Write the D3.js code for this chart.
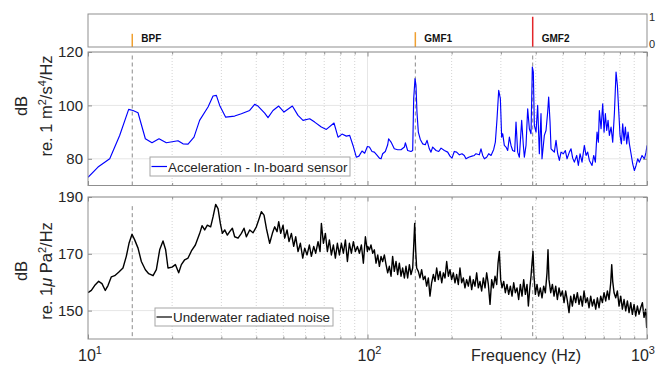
<!DOCTYPE html>
<html>
<head>
<meta charset="utf-8">
<script src="https://cdn.jsdelivr.net/npm/d3@7"></script>
<style>
  body { margin: 0; background: #fff; }
  svg { font-family: "Liberation Sans", Arial, sans-serif; }
</style>
</head>
<body>
<svg id="chart" width="660" height="367"></svg>
<script>
// --- data ---
const decadeTicks = [10, 100, 1000];
const decadeExp = ['1', '2', '3'];
const minorTicks = [20, 30, 40, 50, 60, 70, 80, 90, 200, 300, 400, 500, 600, 700, 800, 900];

const markerNames = ['BPF', 'GMF1', 'GMF2'];
const markerFreq = [14.4, 148.3, 390];
const markerLevel = [0.38, 0.44, 1];
const markerColor = ['#f0a030', '#f0a030', '#e3262a'];
const stripDomain = [-0.1, 1.1];
const stripTicks = [0, 1];

const accelDomain = [70, 120];
const accelTicks = [80, 100, 120];
const accelMarkerSpan = [70, 119];
const noiseDomain = [140, 190];
const noiseTicks = [150, 170, 190];
const noiseMarkerSpan = [141, 187];

// acceleration, 10-100 Hz
const accelLowFreq = [10, 10.86, 11.96, 12.98, 13.98, 14.49, 15.10, 16.04, 16.94, 17.95,
  19.07, 20.99, 21.87, 22.80, 23.95, 25.08, 26.88, 28.01, 28.79, 29.59,
  31.09, 33.47, 35.37, 37.88, 39.47, 40.57, 42.87, 44.06, 45.91, 48.11,
  50.27, 53.85, 56.41, 58.79, 62.11, 64.71, 68.37, 71.25, 75.88, 78.44,
  81.06, 84.0, 86.35, 88.75, 91.2, 93.2, 95.6, 97.7, 99.9];
const accelLowDb = [73.1, 76.9, 80, 88.75, 98.5, 98.1, 97.25, 87.5, 86, 87.5,
  86, 86.75, 85.6, 85.5, 88.1, 94.4, 99.4, 103.5, 103.75, 100,
  95.6, 96, 96.9, 98.1, 100.4, 99.75, 97.1, 95.4, 98.1, 99.75,
  97.5, 99.75, 96.25, 94.4, 95, 93.75, 91.9, 91, 93.4, 88.1,
  89.25, 88.5, 88.75, 85, 80.6, 81, 82.9, 82.1, 84.6];
// acceleration, 100-1000 Hz
const accelHighFreq = [101.6, 103.8, 105.8, 107.9, 110.3, 111.8, 113.3, 115.8, 118.1, 119.0,
  121.4, 124.7, 128.2, 131.8, 135.5, 136.6, 139.2, 143.1, 145.1, 146.3,
  147.9, 149.1, 150.3, 152.0, 154.5, 157.5, 161.0, 163.3, 166.4, 168.7,
  171.1, 175.9, 179.8, 183.3, 188.4, 193.6, 197.3, 200.6, 204.4, 208.4,
  213.1, 217.8, 222.0, 225.1, 230.1, 236.5, 241.1, 244.4, 251.2, 254.7,
  258.3, 261.9, 266.9, 271.4, 276.7, 282.8, 286.7, 290.7, 294.7, 298.8,
  302.0, 304.6, 308.7, 313.0, 317.4, 321.8, 326.2, 330.7, 336.2, 339.9,
  344.6, 349.4, 356.1, 361.1, 364.1, 369.1, 374.2, 379.4, 384.6, 388.8,
  392.0, 395.3, 400.8, 406.3, 411.9, 417.6, 421.1, 429.2, 435.2, 441.2,
  444.8, 449.9, 453.6, 459.9, 466.2, 472.6, 479.2, 485.8, 492.5, 502.1,
  510.4, 517.5, 527.5, 534.8, 542.1, 549.7, 560.4, 568.1, 576.0, 585.5,
  596.9, 605.2, 613.5, 622.0, 635.9, 644.7, 653.6, 662.6, 669.9, 675.5,
  684.8, 694.3, 702.0, 709.7, 717.6, 725.6, 733.5, 743.7, 753.9, 764.3,
  774.9, 783.5, 792.1, 800.9, 809.7, 818.6, 827.7, 836.9, 846.1, 855.4,
  864.9, 876.8, 889.0, 901.3, 913.8, 926.3, 939.1, 960.1, 978.7, 992.2,
  1000];
const accelHighDb = [84.4, 82.75, 82.5, 81.5, 80.25, 80, 81.9, 82.75, 85.25, 87.5,
  86.25, 83.75, 83.4, 83.4, 84.4, 86, 83.1, 82.75, 83.1, 102.5,
  110, 107.5, 97.5, 90, 87.25, 85.6, 85.25, 86.9, 83.75, 82.5,
  84.4, 83.1, 82.75, 84, 83.1, 82.5, 81, 80.25, 82.75, 82.5,
  81.5, 81.9, 81.25, 80, 80.6, 81, 81.25, 81.9, 81.5, 83.75,
  81.25, 80, 80.6, 81.9, 81.25, 83.5, 86.25, 95, 105.6, 102.5,
  88.1, 89.4, 85, 84.4, 83.1, 88.1, 85, 83.1, 82.75, 93.75,
  82.5, 80.6, 94.4, 85, 80.6, 85, 98.75, 91.25, 89.4, 114.4,
  112.5, 92.5, 90, 100, 81.9, 96.9, 80, 88.75, 90.6, 97.5,
  103.1, 93.75, 83.75, 83.1, 82.5, 86.9, 81.9, 79.4, 82.5, 81.9,
  83.1, 80, 82.5, 83.75, 80.25, 78.75, 81.25, 77.5, 81.9, 78.75,
  85, 81.25, 82.5, 79.4, 77.5, 81.25, 78.75, 90, 86.25, 98.1,
  91.25, 100.6, 90, 96.9, 90.6, 94.4, 88.75, 91.9, 86.25, 96.9,
  112.5, 107.5, 98.1, 88.75, 85.6, 93.1, 86.9, 91.9, 85.6, 90,
  85.6, 81.9, 78.1, 75.6, 77.5, 80, 78.75, 81.25, 80, 82.5,
  85];

// radiated noise, 10-100 Hz
const noiseLowFreq = [10.0, 10.28, 10.56, 10.92, 11.22, 11.53, 11.79, 12.12, 12.46, 12.87,
  13.34, 13.71, 14.02, 14.37, 14.69, 15.10, 15.52, 16.04, 16.49, 17.09,
  17.56, 18.05, 18.55, 18.96, 19.33, 19.98, 20.54, 21.11, 21.58, 22.18,
  22.80, 23.44, 24.22, 25.10, 25.59, 26.15, 26.73, 27.47, 28.01, 28.63,
  29.19, 29.75, 30.25, 30.84, 31.52, 32.13, 32.85, 33.48, 34.42, 35.38,
  36.16, 36.87, 37.89, 38.95, 40.02, 40.80, 41.71, 42.64, 43.46, 44.67,
  45.68, 46.56, 47.47, 48.12, 48.92, 49.87, 50.56, 51.54, 52.40, 53.42,
  54.45, 55.36, 56.43, 57.53, 58.65, 59.62, 60.78, 61.96, 62.98, 64.21,
  65.28, 66.54, 67.65, 68.39, 69.53, 70.68, 71.85, 73.05, 74.26, 75.50,
  76.75, 78.03, 79.33, 80.65, 81.98, 83.35, 84.74, 86.14, 87.57, 89.02,
  90.51, 92.01, 93.54, 95.09, 96.66, 98.28, 99.91];
const noiseLowDb = [156.3, 157.1, 158.8, 160.3, 159.5, 157.1, 158.8, 161.9, 162.3, 163.5,
  165, 169.1, 173.7, 176.9, 174.9, 172, 167.3, 164.4, 163, 162.3,
  164.4, 171.4, 174.5, 171.4, 165, 165.3, 166.2, 163.3, 166.2, 167.9,
  168.5, 171, 173.1, 177.2, 179.9, 178.4, 180.1, 179.5, 183, 187.4,
  185.9, 180.7, 177.2, 178.4, 176.6, 177.8, 179, 176, 175.5, 177.2,
  179, 176, 178.4, 177.4, 179.5, 181.9, 184.8, 183.6, 179, 173.7,
  177.2, 179.5, 177.8, 181.3, 177.2, 180.1, 175.5, 178.4, 174.3, 177.2,
  172.6, 176, 170.8, 173.7, 168.5, 172, 169.6, 173.1, 169.1, 172.6,
  170.2, 174.3, 170.8, 180.7, 173.7, 177.2, 170.8, 174.9, 169.6, 173.1,
  168.5, 173.7, 169.6, 173.7, 170.2, 174.9, 167.3, 173.7, 170.2, 174.3,
  170.8, 172.6, 170.2, 173.1, 166.7, 176, 170.8];
// radiated noise, 100-1000 Hz
const noiseHighFreq = [100.2, 101.6, 102.9, 104.4, 105.8, 107.3, 108.8, 110.3, 111.8, 113.3,
  114.9, 116.5, 118.1, 119.7, 121.4, 123.0, 124.7, 126.5, 128.2, 130.0,
  131.8, 133.6, 135.5, 137.3, 139.2, 141.2, 143.1, 145.1,
  146.3, 147.5, 148.7,
  149.9, 152.0, 154.1, 156.2, 158.4, 160.6, 162.8, 165.1, 167.3, 169.6,
  172.0, 174.4, 176.8, 179.3, 181.8, 184.3, 186.8, 189.4, 192.0, 194.7,
  197.3, 200.0, 202.8, 205.6, 208.4, 211.3, 214.2, 217.2, 220.2, 223.2,
  226.3, 229.5, 232.6, 235.9, 239.1, 242.4, 245.8, 249.2, 252.6, 256.1,
  259.7, 263.3, 266.9, 270.6, 274.4, 278.2, 282.0, 285.9, 289.9,
  293.1, 296.3, 299.6, 302.9,
  307.1, 311.3, 315.6, 320.0, 324.4, 328.9, 333.5, 338.0,
  342.7, 347.4, 352.2, 357.1, 362.1, 367.1, 372.2,
  376.3, 380.4, 384.6, 387.8, 391.0, 394.2, 398.6,
  404.1, 409.6, 415.3, 421.1, 426.9, 432.8, 438.8,
  442.4, 446.0,
  452.4, 458.6, 464.9, 471.4, 477.9, 484.5, 491.2, 498.0, 504.9, 511.8,
  518.9, 526.0, 533.3, 540.7, 548.1, 555.7, 563.4, 571.2, 579.1, 587.1,
  595.3, 603.5, 611.9, 620.4, 628.9, 637.6, 646.4, 655.4, 664.5, 673.6,
  683.0, 692.4, 702.0, 711.7, 721.5, 731.5, 741.6,
  747.8, 753.9, 762.3, 772.8,
  783.5, 794.3, 805.3, 816.4, 827.7, 839.1, 850.8, 862.6, 874.5, 886.5,
  898.9, 911.2, 923.8, 936.7, 949.5, 962.7, 976.0, 989.5,
  997, 1000];
const noiseHighDb = [172.6, 171.4, 173.1, 170.2, 171.4, 166.7, 169.6, 165.6, 169.1, 167.3,
  169.6, 166.2, 163.3, 165.6, 162.1, 169.1, 163.8, 167.3, 162.7, 166.7,
  162.1, 165, 161.5, 165.6, 161.5, 166.2, 162.7, 165,
  172.6, 180.7, 171.4,
  165, 163.8, 161.5, 164.4, 160.9, 162.1, 158.6, 161.5, 155.1, 159.8,
  162.7, 160.3, 165, 160.9, 163.8, 159.8, 163.3, 161.5, 167.3, 162.1,
  164.4, 160.9, 163.3, 159.8, 162.7, 159.2, 165, 159.8, 161.5, 158,
  160.9, 158.6, 162.1, 157.4, 160.9, 158.6, 163.3, 158, 160.3, 156.9,
  161.5, 158, 163.3, 159.2, 152.2, 160.9, 158, 162.1, 159.2,
  166.7, 170.8, 160.9, 158,
  160.3, 156.3, 159.2, 155.7, 158.6, 155.1, 159.8, 156.3,
  158, 153.9, 159.2, 155.1, 160.9, 155.7, 159.2,
  151.6, 157.4, 162.1, 166.7, 170.8, 162.1, 155.7,
  159.2, 155.1, 158, 154.5, 158.6, 156.3, 163.3,
  171.4, 160.9,
  156.3, 159.2, 155.1, 158.6, 153.9, 158, 155.1, 156.9, 152.8, 156.9,
  153.4, 149.3, 155.1, 151.6, 155.7, 152.8, 156.3, 152.2, 155.1, 151.6,
  156.9, 152.8, 154.5, 151, 155.1, 151.6, 153.9, 150.5, 154.5, 151,
  155.1, 152.8, 156.3, 153.4, 156.9, 153.9, 159.8,
  166.2, 160.3, 156.3, 154.5,
  156.9, 151.6, 155.1, 150.5, 153.9, 149.9, 153.4, 149.3, 152.8, 148.7,
  152.2, 148.1, 151.6, 148.7, 151, 152.8, 147.6, 150.5,
  144.1, 149.3];

// --- layout ---
const svg = d3.select('#chart');
const textColor = '#262626';
const boxColor = '#8f8f8f';
const gridColor = '#e6e6e6';
const fontFamily = '"Liberation Sans", Arial, sans-serif';

const x = d3.scaleLog().domain([10, 1000]).range([88, 647]);
const strip = { top: 14, bottom: 47 };
const upper = { top: 52, bottom: 185.5 };
const lower = { top: 197, bottom: 339 };

const yStrip = d3.scaleLinear().domain(stripDomain).range([strip.bottom, strip.top]);
const yAccel = d3.scaleLinear().domain(accelDomain).range([upper.bottom, upper.top]);
const yNoise = d3.scaleLinear().domain(noiseDomain).range([lower.bottom, lower.top]);

const x0 = x.range()[0], x1 = x.range()[1];

function drawPanel (name, y, box, ticks, markerSpan, points, color, lineWidth) {
  const g = svg.append('g').attr('class', name);

  // grid
  g.append('g').selectAll('line')
    .data(minorTicks)
    .enter()
    .append('line')
    .attr('x1', d => x(d)).attr('x2', d => x(d))
    .attr('y1', box.top).attr('y2', box.bottom)
    .style('stroke', '#d4d4d4')
    .style('stroke-dasharray', '1,2');
  g.append('line')
    .attr('x1', x(100)).attr('x2', x(100))
    .attr('y1', box.top).attr('y2', box.bottom)
    .style('stroke', gridColor);
  g.append('g').selectAll('line')
    .data(ticks)
    .enter()
    .append('line')
    .attr('x1', x0).attr('x2', x1)
    .attr('y1', d => y(d)).attr('y2', d => y(d))
    .style('stroke', gridColor);

  // dashed marker lines
  g.append('g').selectAll('line')
    .data(markerFreq)
    .enter()
    .append('line')
    .attr('x1', d => x(d)).attr('x2', d => x(d))
    .attr('y1', y(markerSpan[0])).attr('y2', y(markerSpan[1]))
    .style('stroke', '#8a8a8a')
    .style('stroke-dasharray', '4,3');

  // curve
  g.append('clipPath').attr('id', 'clip-' + name)
    .append('rect')
    .attr('x', x0).attr('y', box.top)
    .attr('width', x1 - x0).attr('height', box.bottom - box.top);
  const line = d3.line().x(d => x(d[0])).y(d => y(d[1]));
  g.append('path')
    .datum(points)
    .attr('clip-path', 'url(#clip-' + name + ')')
    .attr('d', line)
    .style('fill', 'none')
    .style('stroke', color)
    .style('stroke-width', lineWidth)
    .style('stroke-linejoin', 'round');

  // ticks, pointing inwards
  const left = g.append('g').attr('transform', `translate(${x0},0)`)
    .call(d3.axisLeft(y).tickValues(ticks).tickSize(-4).tickPadding(5));
  g.append('g').attr('transform', `translate(${x1},0)`)
    .call(d3.axisRight(y).tickValues(ticks).tickSize(-4).tickFormat(''));
  [[box.bottom, d3.axisBottom], [box.top, d3.axisTop]].forEach(([yy, axis]) => {
    g.append('g').attr('transform', `translate(0,${yy})`)
      .call(axis(x).tickValues(minorTicks).tickSize(-2.5).tickFormat(''));
    g.append('g').attr('transform', `translate(0,${yy})`)
      .call(axis(x).tickValues(decadeTicks).tickSize(-4.5).tickFormat(''));
  });
  g.selectAll('.domain').remove();
  g.selectAll('.tick line').style('stroke', boxColor);
  left.selectAll('text')
    .style('font-size', '15px')
    .style('fill', textColor)
    .style('font-family', fontFamily);

  g.append('rect')
    .attr('x', x0).attr('y', box.top)
    .attr('width', x1 - x0).attr('height', box.bottom - box.top)
    .style('fill', 'none')
    .style('stroke', boxColor);
  return g;
}

// --- marker strip ---
const gs = svg.append('g');
gs.append('g').selectAll('line')
  .data(markerFreq)
  .enter()
  .append('line')
  .attr('x1', d => x(d)).attr('x2', d => x(d))
  .attr('y1', yStrip(stripDomain[0]))
  .attr('y2', (d, i) => yStrip(markerLevel[i]))
  .style('stroke', (d, i) => markerColor[i])
  .style('stroke-width', 1.5);
gs.append('g').selectAll('text')
  .data(markerNames)
  .enter()
  .append('text')
  .attr('x', (d, i) => x(markerFreq[i]) + 9)
  .attr('y', 42)
  .style('font-size', '10px')
  .style('font-weight', 'bold')
  .style('fill', '#111')
  .text(d => d);
gs.append('rect')
  .attr('x', x0).attr('y', strip.top)
  .attr('width', x1 - x0).attr('height', strip.bottom - strip.top)
  .style('fill', 'none')
  .style('stroke', boxColor);
const stripAxis = gs.append('g').attr('transform', `translate(${x1},0)`)
  .call(d3.axisRight(yStrip).tickValues(stripTicks).tickSize(0).tickPadding(2).tickFormat(d3.format('d')));
stripAxis.select('.domain').remove();
stripAxis.selectAll('text')
  .style('font-size', '11px')
  .style('fill', textColor)
  .style('font-family', fontFamily);

// --- panels ---
drawPanel('accel', yAccel, upper, accelTicks, accelMarkerSpan,
  d3.zip(accelLowFreq.concat(accelHighFreq), accelLowDb.concat(accelHighDb)), '#0000ff', 1.15);
drawPanel('noise', yNoise, lower, noiseTicks, noiseMarkerSpan,
  d3.zip(noiseLowFreq.concat(noiseHighFreq), noiseLowDb.concat(noiseHighDb)), '#000', 1.4);

// x tick labels with exponents, kept inside the page
const xl = svg.append('g').selectAll('text')
  .data(decadeTicks)
  .enter()
  .append('text')
  .attr('x', d => Math.min(x(d) + 2, 643))
  .attr('y', 361)
  .attr('text-anchor', 'middle')
  .style('font-size', '16px')
  .style('fill', textColor);
xl.append('tspan').text('10');
xl.append('tspan').attr('dy', -7).style('font-size', '11px').text((d, i) => decadeExp[i]);

svg.append('text')
  .attr('x', 526).attr('y', 361)
  .attr('text-anchor', 'middle')
  .style('font-size', '16px')
  .style('fill', textColor)
  .text('Frequency (Hz)');

// y labels
function yLabel (cx, cy, lines) {
  const t = svg.append('g').attr('transform', `translate(${cx},${cy}) rotate(-90)`);
  lines.forEach((parts, i) => {
    const txt = t.append('text')
      .attr('x', 0).attr('y', i * 25)
      .attr('text-anchor', 'middle')
      .style('font-size', '16.5px')
      .style('fill', textColor);
    parts.forEach(p => {
      const s = txt.append('tspan').text(p.t);
      if (p.sup) s.attr('dy', -6).style('font-size', '11px');
      if (p.down) s.attr('dy', 6);
      if (p.it) s.style('font-style', 'italic');
    });
  });
}
yLabel(27, 106, [
  [{ t: 'dB' }],
  [{ t: 're. 1 m' }, { t: '2', sup: true }, { t: '/s', down: true }, { t: '4', sup: true }, { t: '/Hz', down: true }]
]);
yLabel(27, 271, [
  [{ t: 'dB' }],
  [{ t: 're. 1' }, { t: 'μ', it: true }, { t: ' Pa' }, { t: '2', sup: true }, { t: '/Hz', down: true }]
]);

// legends
function legend (bx, by, w, h, color, label) {
  const g = svg.append('g');
  g.append('rect')
    .attr('x', bx).attr('y', by).attr('width', w).attr('height', h)
    .style('fill', '#fff')
    .style('stroke', '#a6a6a6');
  g.append('line')
    .attr('x1', bx + 1.5).attr('x2', bx + 17)
    .attr('y1', by + h / 2).attr('y2', by + h / 2)
    .style('stroke', color)
    .style('stroke-width', 1.2);
  g.append('text')
    .attr('x', bx + 18).attr('y', by + h / 2 + 5)
    .style('font-size', '13.4px')
    .style('fill', textColor)
    .text(label);
}
legend(150, 157, 200, 19, '#0000ff', 'Acceleration - In-board sensor');
legend(155, 308, 178, 18, '#000', 'Underwater radiated noise');
</script>
</body>
</html>
